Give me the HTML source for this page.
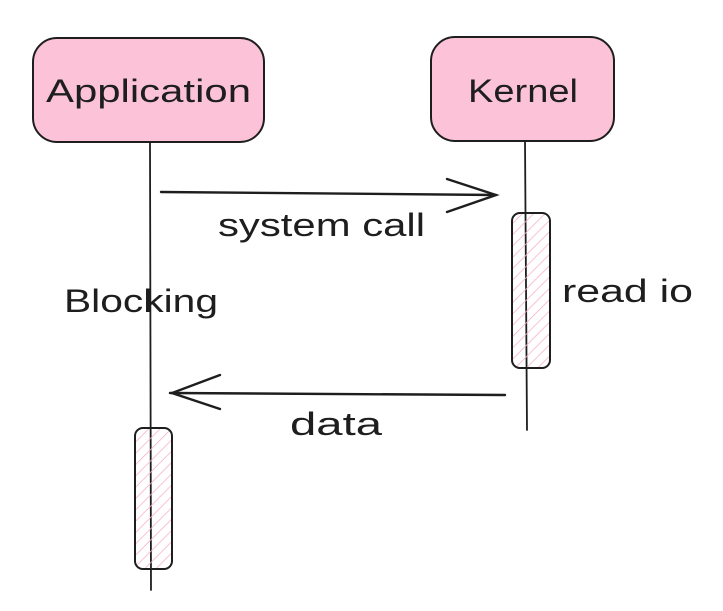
<!DOCTYPE html>
<html><head><meta charset="utf-8"><style>html,body{margin:0;padding:0;background:#fff}svg{display:block}</style></head>
<body>
<svg width="723" height="611" viewBox="0 0 723 611" xmlns="http://www.w3.org/2000/svg">
<defs>
<pattern id="h" width="8" height="8" patternUnits="userSpaceOnUse" patternTransform="rotate(45)">
<line x1="0" y1="0" x2="0" y2="8" stroke="#f7b3c9" stroke-width="1.6"/>
</pattern>
</defs>
<g stroke="#1e1e1e" fill="none" stroke-linecap="round" font-family="Liberation Sans, sans-serif">
<rect x="33" y="38" width="231" height="104" rx="24" fill="#fcc2d7" stroke-width="2"/>
<rect x="431" y="37" width="183" height="104" rx="24" fill="#fcc2d7" stroke-width="2"/>
<line x1="150" y1="142" x2="151" y2="590" stroke-width="1.8"/>
<line x1="525" y1="141" x2="527" y2="430" stroke-width="1.8"/>
<rect x="512" y="213" width="38" height="155" rx="8" fill="url(#h)" stroke-width="2"/>
<rect x="135" y="428" width="37" height="141" rx="8" fill="url(#h)" stroke-width="2"/>
<line x1="161" y1="192" x2="496" y2="195" stroke-width="2.4"/>
<polyline points="447,179 496,195 447,212" stroke-width="2.4"/>
<line x1="505" y1="395" x2="170" y2="393" stroke-width="2.4"/>
<polyline points="220,375 172,393 220,409" stroke-width="2.4"/>
</g>
<g fill="#1e1e1e" font-family="Liberation Sans, sans-serif" font-size="32">
<text x="46" y="102" textLength="205" lengthAdjust="spacingAndGlyphs">Application</text>
<text x="468" y="102" textLength="110" lengthAdjust="spacingAndGlyphs">Kernel</text>
<text x="218" y="236" textLength="207" lengthAdjust="spacingAndGlyphs">system call</text>
<text x="64" y="312" textLength="154" lengthAdjust="spacingAndGlyphs">Blocking</text>
<text x="562" y="302" textLength="131" lengthAdjust="spacingAndGlyphs">read io</text>
<text x="290" y="435" textLength="92" lengthAdjust="spacingAndGlyphs">data</text>
</g>
</svg>
</body></html>
